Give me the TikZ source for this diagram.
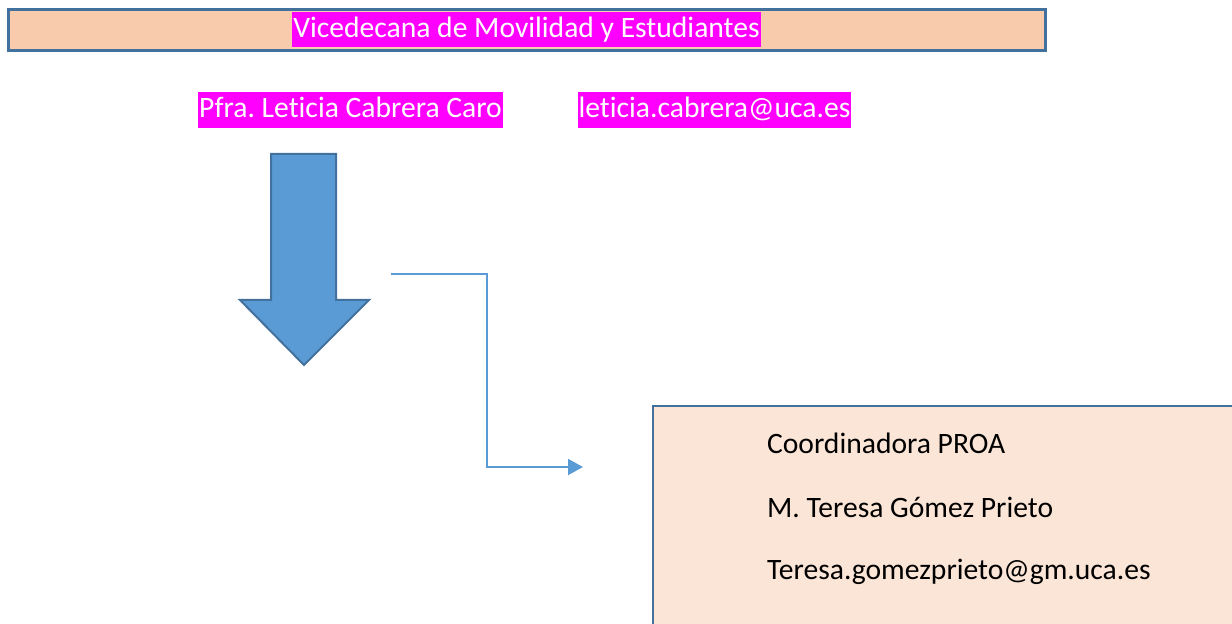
\documentclass[tikz,border=0pt]{standalone}
\usepackage{fontspec}
\setmainfont{Carlito}[Ligatures=NoCommon]
\usepackage{tikz}
\usetikzlibrary{arrows.meta,calc}
\frenchspacing

\definecolor{rim}{HTML}{41719C}
\definecolor{peach}{HTML}{F8CBAD}
\definecolor{lightpeach}{HTML}{FBE5D6}
\definecolor{midblue}{HTML}{5B9BD5}
\definecolor{hilite}{HTML}{FF00FF}

\begin{document}
\begin{tikzpicture}
  [x=0.5pt,y=-0.5pt,font=\fontsize{14.8}{17}\selectfont,
   tag/.style={fill=hilite,text=white,inner xsep=0.5pt,inner ysep=1pt,text height=11.8pt,text depth=4pt},
   line/.style={anchor=west,text=black}]

  \useasboundingbox (0,0) rectangle (1232,624);
  \clip (0,0) rectangle (1232,624);

  % top bar
  \node[style={draw=rim,line width=1.5pt,fill=peach,minimum width=518.5pt,minimum height=20.5pt,inner sep=0pt}] (bar) at (526.5,30.5) {};
  \node[tag] (vice) at (526.5,29.5) {Vicedecana de Movilidad y Estudiantes};
  \node[tag] (name) at (350.5,110) {Pfra. Leticia Cabrera Caro};
  \node[tag] (mail) at (714.5,110) {leticia.cabrera@uca.es};

  % big arrow
  \draw[draw=rim,line width=1pt,fill=midblue,line join=miter]
    (271,154) -- (336,154) -- (336,300) -- (369,300) -- (304,365)
    -- (240,300) -- (271,300) -- cycle;

  % coordinator box
  \node[style={draw=rim,line width=1pt,fill=lightpeach,anchor=north west,minimum width=300pt,minimum height=120pt}] (proa) at (652,405) {};
  \node[line] (role) at (760,443) {Coordinadora PROA};
  \node[line] (who) at (760,507) {M. Teresa Gómez Prieto};
  \node[line] (addr) at (760,572) {Teresa.gomezprieto@gm.uca.es};

  \coordinate (c1) at (391,274);
  \coordinate (c2) at (583,467);
  \draw[midblue,line width=1pt,-{Triangle[length=7.5pt,width=8pt]}] (c1) -| ($(c1)!0.5!(c2)$) |- (c2);
\end{tikzpicture}
\end{document}
